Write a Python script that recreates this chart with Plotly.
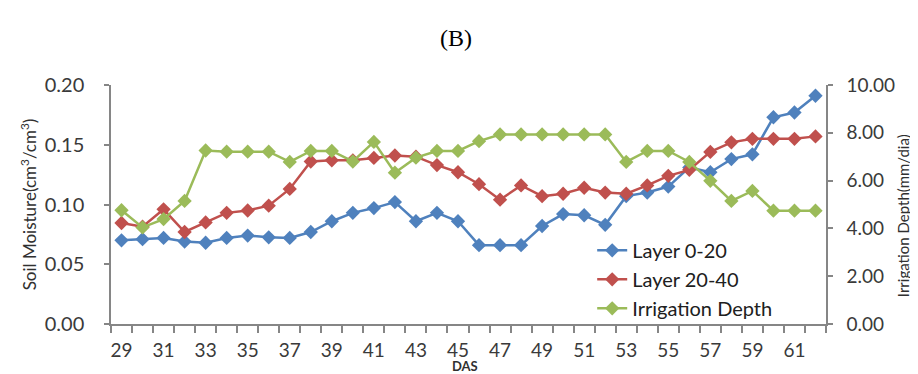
import plotly.graph_objects as go

das = list(range(29, 63))
layer_0_20 = [0.070, 0.071, 0.072, 0.069, 0.068, 0.072, 0.074, 0.0725, 0.072, 0.077,
              0.086, 0.093, 0.097, 0.102, 0.086, 0.093, 0.086, 0.066, 0.066, 0.066,
              0.082, 0.092, 0.091, 0.083, 0.107, 0.110, 0.115, 0.131, 0.127, 0.138,
              0.142, 0.173, 0.177, 0.191]
layer_20_40 = [0.0845, 0.0814, 0.096, 0.077, 0.085, 0.093, 0.095, 0.099, 0.113, 0.136,
               0.137, 0.137, 0.139, 0.141, 0.140, 0.133, 0.127, 0.117, 0.104, 0.116,
               0.107, 0.109, 0.114, 0.110, 0.109, 0.116, 0.124, 0.129, 0.144, 0.152,
               0.155, 0.155, 0.155, 0.157]
irrigation = [4.76, 4.04, 4.39, 5.15, 7.26, 7.21, 7.21, 7.21, 6.78, 7.24,
              7.24, 6.80, 7.62, 6.33, 6.96, 7.24, 7.24, 7.65, 7.93, 7.93,
              7.93, 7.93, 7.93, 7.93, 6.78, 7.24, 7.24, 6.78, 5.99, 5.15,
              5.57, 4.74, 4.74, 4.74]
x_ticks = list(range(29, 63, 2))

FONT = "Lato"
TXT = "#3a3a3a"
AX = "#868686"

fig = go.Figure()
fig.add_trace(go.Scatter(x=das, y=layer_0_20, name="Layer 0-20", mode="lines+markers",
                         line=dict(color="#4F81BD", width=2.5),
                         marker=dict(symbol="diamond", size=11, color="#4F81BD")))
fig.add_trace(go.Scatter(x=das, y=layer_20_40, name="Layer 20-40", mode="lines+markers",
                         line=dict(color="#C0504D", width=2.5),
                         marker=dict(symbol="diamond", size=11, color="#C0504D")))
fig.add_trace(go.Scatter(x=das, y=irrigation, name="Irrigation Depth", mode="lines+markers",
                         yaxis="y2",
                         line=dict(color="#9BBB59", width=2.5),
                         marker=dict(symbol="diamond", size=11, color="#9BBB59")))

fig.update_layout(
    width=918, height=374,
    margin=dict(l=103, r=100, t=77, b=58, autoexpand=False),
    paper_bgcolor="white", plot_bgcolor="white",
    font=dict(family=FONT, size=15, color=TXT),
    title=dict(text="(B)", x=0.488, xanchor="center", y=0.922, yanchor="middle",
               font=dict(family="Liberation Serif", size=24, color="black")),
    xaxis=dict(range=[28.5, 62.5], tickmode="array", tickvals=x_ticks, automargin=False,
               ticktext=[str(v) for v in x_ticks], ticks="", ticklabelstandoff=8,
               showline=True, linecolor=AX, linewidth=1.5, showgrid=False, zeroline=False,
               minor=dict(tick0=28.5, dtick=1, ticks="outside", ticklen=7,
                          tickcolor=AX, tickwidth=1.5, showgrid=False),
               tickfont=dict(size=19, color=TXT)),
    yaxis=dict(range=[0, 0.2], dtick=0.05, tickformat=".2f", ticks="outside", ticklen=5,
               tickcolor=AX, tickwidth=1.5, showline=True, linecolor=AX, linewidth=1.5,
               showgrid=False, zeroline=False, ticklabelstandoff=16, automargin=False,
               title=dict(text="Soil Moisture(cm<sup>3</sup>/cm<sup>3</sup>)",
                          font=dict(size=17, color="#303030"), standoff=4),
               tickfont=dict(size=20, color=TXT)),
    yaxis2=dict(range=[0, 10], dtick=2, tickformat=".2f", ticks="outside", ticklen=5,
                tickcolor=AX, tickwidth=1.5, showline=True, linecolor=AX, linewidth=1.5,
                overlaying="y", side="right", showgrid=False, zeroline=False,
                ticklabelstandoff=10, automargin=False,
                tickfont=dict(size=19, color=TXT)),
    legend=dict(x=0.673, y=0.39, xanchor="left", yanchor="top",
                bgcolor="rgba(255,255,255,0)", font=dict(size=20, color="#202020"),
                tracegroupgap=0, itemwidth=30),
    showlegend=True,
)

fig.add_annotation(text="Irrigation Depth(mm/dia)", textangle=-90,
                   xref="paper", yref="paper", x=1.108, y=0.452,
                   xanchor="center", yanchor="middle", showarrow=False,
                   font=dict(family=FONT, size=15, color="#303030"))
fig.add_annotation(text="<b>DAS</b>",
                   xref="paper", yref="paper", x=0.4951, y=-0.175,
                   xanchor="center", yanchor="middle", showarrow=False,
                   font=dict(family=FONT, size=13, color="#303030"))

fig.write_html("out.html")
